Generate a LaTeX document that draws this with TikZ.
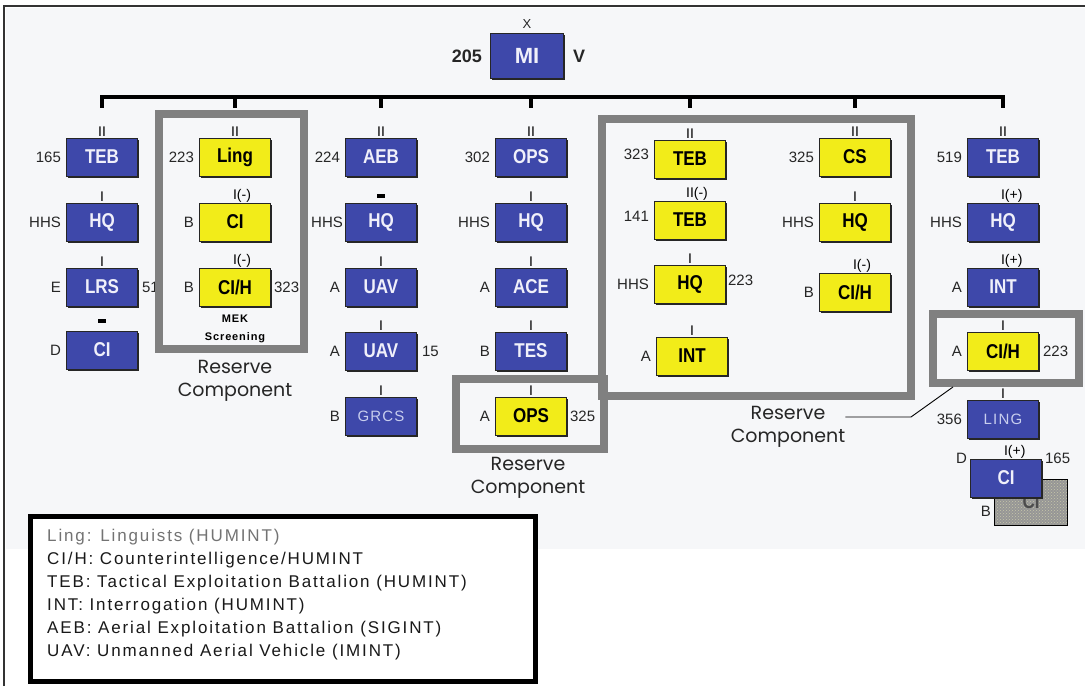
\documentclass[tikz,border=0pt]{standalone}
\usepackage{fontspec}
\setmainfont{Liberation Sans}
\newfontfamily\unitfont[FakeStretch=0.85]{Liberation Sans}
\newfontfamily\spacedfont[LetterSpace=8]{Liberation Sans}
\newfontfamily\legendfont[LetterSpace=11]{Liberation Sans}
\newfontfamily\notefont{Poppins}
\usetikzlibrary{positioning,shadows,patterns}
\definecolor{FillUnit}{RGB}{62,72,170}
\definecolor{FillRes}{RGB}{242,236,25}
\definecolor{UnitText}{RGB}{240,240,250}
\definecolor{PaleText}{RGB}{200,206,238}
\definecolor{FrameGray}{RGB}{128,128,128}
\definecolor{PaperBg}{RGB}{246,247,249}
\definecolor{GhostGray}{RGB}{150,150,150}
\definecolor{GhostDots}{RGB}{200,200,170}

\begin{document}
\begin{tikzpicture}[x=1pt, y=-1pt,
    unit/.style={draw=black!85, line width=0.8pt, fill=FillUnit, text=UnitText,
        minimum width=71pt, minimum height=38pt, inner sep=0pt,
        font=\unitfont\bfseries\fontsize{20}{20}\selectfont,
        drop shadow={shadow xshift=1.5pt, shadow yshift=-1.5pt, fill=black!85, opacity=1}},
    resv/.style={unit, fill=FillRes, text=black},
    pale/.style={unit, text=PaleText, font=\spacedfont\fontsize{15}{15}\selectfont},
    ghost/.style={draw=black, line width=1pt, minimum width=73pt, minimum height=46pt,
        preaction={fill=GhostGray}, pattern=crosshatch dots, pattern color=GhostDots,
        text=black!70, font=\unitfont\bfseries\fontsize{20}{20}\selectfont},
    lbl/.style={font=\fontsize{15}{15}\selectfont, text=black!85, inner sep=0pt},
    ech/.style={font=\fontsize{14}{14}\selectfont, inner sep=0pt, anchor=south, yshift=0.5pt},
    rcframe/.style={draw=FrameGray, line width=8pt},
    note/.style={font=\notefont\fontsize{19}{23}\selectfont, align=center, text=black!85, inner sep=0pt},
    bus/.style={line width=3.2pt, line cap=rect},
    legbox/.style={draw, line width=5pt, fill=white, minimum width=505pt, minimum height=165pt},
    legtext/.style={anchor=north west, align=left, inner sep=0pt, text=black!90,
        font=\legendfont\fontsize{17}{23}\selectfont}
]
\useasboundingbox (0,0) rectangle (1085,686);

%% ---- PAGE ----
\fill[PaperBg] (6,8) rectangle (1085,549);
\draw[line width=2pt, black!80] (4,686) -- (4,6) -- (1085,6);
\node[legbox] (legend) at (282.5,598.5) {};

%% ---- TOP UNIT ----
\node[unit, minimum width=73pt, minimum height=45pt, font=\bfseries\fontsize{22}{22}\selectfont] (mi) at (527,56) {MI};
\node[lbl, font=\bfseries\fontsize{18}{18}\selectfont, left=8pt of mi] (mi205) {205};
\node[lbl, font=\bfseries\fontsize{18}{18}\selectfont, right=9pt of mi] (miv) {V};
\node[lbl, font=\fontsize{13}{13}\selectfont, above=4pt of mi] (mix) {X};

%% ---- COLUMN 1 ----
\node[unit] (teb1) at (102,157) {TEB};
\node[unit] (hq1)  at (102,222) {HQ};
\node[unit] (lrs1) at (102,287) {LRS};
\node[unit] (ci1)  at (102,350) {CI};
\node[lbl, left=5pt of teb1] {165};
\node[lbl, left=5pt of hq1]  {HHS};
\node[lbl, left=5pt of lrs1] {E};
\node[lbl, right=4pt of lrs1] {51};
\node[lbl, left=5pt of ci1]  {D};
\node[ech] (teb1e) at (teb1.north) {II};
\node[ech] (hq1e)  at (hq1.north)  {I};
\node[ech] (lrs1e) at (lrs1.north) {I};
\node[ech, yshift=7pt] (ci1e) at (ci1.north) {\rule{8pt}{3.5pt}};

%% ---- COLUMN 2 ----
\node[resv] (ling2) at (235,157) {Ling};
\node[resv] (ci2)   at (235,222) {CI};
\node[resv] (cih2)  at (235,287) {CI/H};
\node[lbl, left=5pt of ling2] {223};
\node[lbl, left=5pt of ci2]   {B};
\node[lbl, left=5pt of cih2]  {B};
\node[lbl, right=3pt of cih2] {323};
\node[ech] (ling2e) at (ling2.north) {II};
\node[ech] (ci2e)   at (ci2.north)   {I\rlap{(-)}};
\node[ech] (cih2e)  at (cih2.north)  {I\rlap{(-)}};
\node[align=center, inner sep=0pt, font=\spacedfont\bfseries\fontsize{11}{18}\selectfont] (mek2) at (235,329) {MEK\\Screening};

%% ---- COLUMN 3 ----
\node[unit] (aeb3)  at (381,157) {AEB};
\node[unit] (hq3)   at (381,222) {HQ};
\node[unit] (uav3)  at (381,287) {UAV};
\node[unit] (uavb3) at (381,351) {UAV};
\node[pale] (grcs3) at (381,416) {GRCS};
\node[lbl, left=5pt of aeb3]   {224};
\node[lbl, left=2pt of hq3]    {HHS};
\node[lbl, left=5pt of uav3]   {A};
\node[lbl, left=5pt of uavb3]  {A};
\node[lbl, right=5pt of uavb3] {15};
\node[lbl, left=5pt of grcs3]  {B};
\node[ech] (aeb3e)  at (aeb3.north)  {II};
\node[ech, yshift=4pt] (hq3e) at (hq3.north) {\rule{8pt}{3.5pt}};
\node[ech] (uav3e)  at (uav3.north)  {I};
\node[ech] (uavb3e) at (uavb3.north) {I};
\node[ech] (grcs3e) at (grcs3.north) {I};

%% ---- COLUMN 4 ----
\node[unit] (ops4)  at (531,157) {OPS};
\node[unit] (hq4)   at (531,222) {HQ};
\node[unit] (ace4)  at (531,287) {ACE};
\node[unit] (tes4)  at (531,351) {TES};
\node[resv] (opsr4) at (531,416) {OPS};
\node[lbl, left=5pt of ops4]   {302};
\node[lbl, left=5pt of hq4]    {HHS};
\node[lbl, left=5pt of ace4]   {A};
\node[lbl, left=5pt of tes4]   {B};
\node[lbl, left=5pt of opsr4]  {A};
\node[lbl, right=3pt of opsr4] {325};
\node[ech] (ops4e)  at (ops4.north)  {II};
\node[ech] (hq4e)   at (hq4.north)   {I};
\node[ech] (ace4e)  at (ace4.north)  {I};
\node[ech] (tes4e)  at (tes4.north)  {I};
\node[ech] (opsr4e) at (opsr4.north) {I};

%% ---- COLUMN 5 ----
\node[resv] (teb5)  at (690,159) {TEB};
\node[resv] (tebb5) at (690,220) {TEB};
\node[resv] (hq5)   at (690,284) {HQ};
\node[resv] (int5)  at (692,356) {INT};
\node[lbl, left=5pt of teb5, yshift=5pt]  {323};
\node[lbl, left=5pt of tebb5, yshift=4pt] {141};
\node[lbl, left=5pt of hq5]   {HHS};
\node[lbl, right=2pt of hq5, yshift=4pt] {223};
\node[lbl, left=5pt of int5]  {A};
\node[ech] (teb5e)  at (teb5.north)  {II};
\node[ech] (tebb5e) at (tebb5.north) {II\rlap{(-)}};
\node[ech] (hq5e)   at (hq5.north)   {I};
\node[ech] (int5e)  at (int5.north)  {I};

%% ---- COLUMN 6 ----
\node[resv] (cs6)  at (855,157) {CS};
\node[resv] (hq6)  at (855,222) {HQ};
\node[resv] (cih6) at (855,292) {CI/H};
\node[lbl, left=5pt of cs6]  {325};
\node[lbl, left=5pt of hq6]  {HHS};
\node[lbl, left=5pt of cih6] {B};
\node[ech] (cs6e)  at (cs6.north)  {II};
\node[ech] (hq6e)  at (hq6.north)  {I};
\node[ech] (cih6e) at (cih6.north) {I\rlap{(-)}};

%% ---- COLUMN 7 ----
\node[unit] (teb7)  at (1003,157) {TEB};
\node[unit] (hq7)   at (1003,222) {HQ};
\node[unit] (int7)  at (1003,287) {INT};
\node[resv] (cih7)  at (1003,351) {CI/H};
\node[pale] (ling7) at (1003,419) {LING};
\node[ghost] (ghost7) at (1031,502) {CI};
\node[unit] (ci7)   at (1006,478) {CI};
\node[lbl, left=5pt of teb7]   {519};
\node[lbl, left=5pt of hq7]    {HHS};
\node[lbl, left=5pt of int7]   {A};
\node[lbl, left=5pt of cih7]   {A};
\node[lbl, right=4pt of cih7]  {223};
\node[lbl, left=5pt of ling7]  {356};
\node[lbl, anchor=east] at ([xshift=-3pt]ci7.north west) {D};
\node[lbl, anchor=west] at ([xshift=3pt]ci7.north east) {165};
\node[lbl, anchor=east] at ([xshift=-3pt, yshift=-9pt]ghost7.west) {B};
\node[ech] (teb7e)  at (teb7.north)  {II};
\node[ech] (hq7e)   at (hq7.north)   {I\rlap{(+)}};
\node[ech] (int7e)  at (int7.north)  {I\rlap{(+)}};
\node[ech] (cih7e)  at (cih7.north)  {I};
\node[ech] (ling7e) at (ling7.north) {I};
\node[ech] (ci7e)   at (ci7.north)   {I\rlap{(+)}};

%% ---- BUS ----
\coordinate (bus) at (0,97);
\draw[bus] (teb1.north |- bus) -- (teb7.north |- bus);
\foreach \n in {teb1,ling2,aeb3,ops4,teb5,cs6,teb7}
    \draw[bus] (\n.north |- bus) -- ++(0,9);

%% ---- RESERVE FRAMES ----
\draw[rcframe] (159,114) rectangle (304,349);
\draw[rcframe] (456,379) rectangle (604,449);
\draw[rcframe] (602,119) rectangle (911,396);
\draw[rcframe] (933,314) rectangle (1079,383);

\node[note] (rc2) at (235,381) {Reserve\\Component};
\node[note] (rc4) at (528,478) {Reserve\\Component};
\node[note] (rc5) at (788,427) {Reserve\\Component};
\coordinate (knee) at (911,417);
\coordinate (tip)  at (953,387);
\draw[line width=0.9pt] (rc5.east |- knee) -- (knee) -- (tip);

%% ---- LEGEND ----
\node[legtext] (legtxt) at (47,529) {%
    \textcolor{black!55}{Ling: Linguists (HUMINT)}\\
    CI/H: Counterintelligence/HUMINT\\
    TEB: Tactical Exploitation Battalion (HUMINT)\\
    INT: Interrogation (HUMINT)\\
    AEB: Aerial Exploitation Battalion (SIGINT)\\
    UAV: Unmanned Aerial Vehicle (IMINT)};

\end{tikzpicture}
\end{document}
